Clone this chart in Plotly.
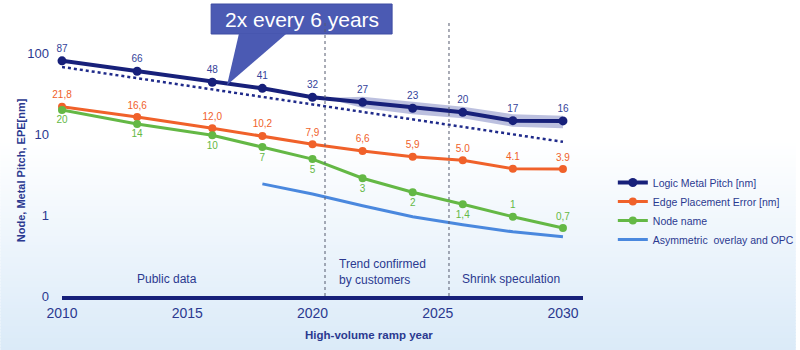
import plotly.graph_objects as go

# ---------------- data ----------------
years = [2010, 2013, 2016, 2018, 2020, 2022, 2024, 2026, 2028, 2030]

pitch_values = [80, 59.5, 43.5, 36.6, 28.4, 24.6, 20.8, 18.5, 14.6, 14.5]
pitch_labels = ["87", "66", "48", "41", "32", "27", "23", "20", "17", "16"]

epe_values = [21.7, 16.2, 11.8, 9.45, 7.46, 6.17, 5.25, 4.73, 3.73, 3.69]
epe_labels = ["21,8", "16,6", "12,0", "10,2", "7,9", "6,6", "5,9", "5.0", "4.1", "3.9"]

node_values = [19.8, 13.3, 9.67, 6.9, 4.9, 2.84, 1.91, 1.36, 0.95, 0.69]
node_labels = ["20", "14", "10", "7", "5", "3", "2", "1,4", "1", "0,7"]

opc_years = [2018, 2020, 2022, 2024, 2026, 2028, 2030]
opc_values = [2.42, 1.82, 1.30, 0.95, 0.76, 0.62, 0.54]

band_years = [2020.5, 2022, 2024, 2026, 2028, 2030]
band_upper = [27.8, 28.9, 25.0, 21.7, 17.5, 16.8]
band_lower = [27.8, 20.9, 17.5, 15.6, 12.3, 11.8]

trend_years = [2010, 2030]
trend_values = [67.2, 8.0]

phase_bounds = [2020.5, 2025.45]

y_tickvals = [0.1, 1, 10, 100]
y_ticktext = ["0", "1", "10", "100"]
x_tickvals = [2010, 2015, 2020, 2025, 2030]

# ---------------- style ----------------
FONT = "Liberation Sans, Arial, sans-serif"
NAVY = "#17207A"
TXT = "#2B3990"
ORANGE = "#F0612A"
GREEN = "#64B845"
BLUE = "#4A88DE"

W, H = 800, 350
ML, MR, MT, MB = 62, 214, 0, 54
PW, PH = W - ML - MR, H - MT - MB


def px(x):
    return (x - ML) / PW


def py(y):
    return (MT + PH - y) / PH


fig = go.Figure()

# shaded band
fig.add_trace(go.Scatter(
    x=band_years + band_years[::-1],
    y=band_upper + band_lower[::-1],
    fill="toself", fillcolor="rgba(80,90,170,0.38)",
    line=dict(width=0), mode="lines", showlegend=False, hoverinfo="skip"))

# trend (2x every 6 years)
fig.add_trace(go.Scatter(
    x=trend_years, y=trend_values, mode="lines",
    line=dict(color="#1F2A8A", width=2.5, dash="dot"),
    showlegend=False, hoverinfo="skip", cliponaxis=False))

fig.add_trace(go.Scatter(
    x=years, y=pitch_values, name="Logic Metal Pitch [nm]",
    mode="lines+markers+text", text=pitch_labels, textposition="top center",
    textfont=dict(size=10, color="#34439A", family=FONT),
    line=dict(color=NAVY, width=4), marker=dict(size=9, color=NAVY),
    cliponaxis=False))

fig.add_trace(go.Scatter(
    x=years, y=epe_values, name="Edge Placement Error [nm]",
    mode="lines+markers+text", text=epe_labels, textposition="top center",
    textfont=dict(size=10, color=ORANGE, family=FONT),
    line=dict(color=ORANGE, width=3), marker=dict(size=8, color=ORANGE),
    cliponaxis=False))

fig.add_trace(go.Scatter(
    x=years, y=node_values, name="Node name",
    mode="lines+markers+text", text=node_labels,
    textposition=["bottom center"] * 8 + ["top center"] * 2,
    textfont=dict(size=10, color=GREEN, family=FONT),
    line=dict(color=GREEN, width=3), marker=dict(size=8, color=GREEN),
    cliponaxis=False))

fig.add_trace(go.Scatter(
    x=opc_years, y=opc_values, name="Asymmetric  overlay and OPC",
    mode="lines", line=dict(color=BLUE, width=3), cliponaxis=False))

shapes = []
# background gradient (white -> light blue)
top_c = (255, 255, 255)
bot_c = (218, 234, 248)
start, end, step = 140, 350, 3
for yy in range(start, end, step):
    t = (yy - start) / (end - start)
    c = tuple(round(top_c[i] + (bot_c[i] - top_c[i]) * t) for i in range(3))
    shapes.append(dict(type="rect", xref="paper", yref="paper",
                       x0=px(0), x1=px(W), y0=py(yy + step + 1), y1=py(yy),
                       fillcolor="rgb(%d,%d,%d)" % c, line=dict(width=0),
                       layer="below"))

# callout box and pointer
shapes.append(dict(type="rect", xref="paper", yref="paper",
                   x0=px(212), x1=px(394), y0=py(34), y1=py(4),
                   fillcolor="#4B5AB3", line=dict(color="#3E4CA3", width=1)))
shapes.append(dict(type="path", xref="paper", yref="paper",
                   path="M %f,%f L %f,%f L %f,%f Z" % (px(240), py(33.5), px(288), py(33.5), px(228), py(85)),
                   fillcolor="#4B5AB3", line=dict(width=0)))

# phase separators (drawn over the callout, as in the reference)
for b in phase_bounds:
    shapes.append(dict(type="line", xref="x", yref="paper", x0=b, x1=b,
                       y0=0, y1=py(23), line=dict(color="#555a6e", width=1, dash="dot")))


def ann(text, x, y, size, xanchor="center", **kw):
    return dict(text=text, xref="paper", yref="paper", x=px(x), y=py(y),
                xanchor=xanchor, yanchor="middle", showarrow=False,
                font=dict(size=size, color=kw.pop("color", TXT), family=FONT), **kw)


annotations = [
    ann("2x every 6 years", 303, 19.5, 21, color="white"),
    ann("<b>Node, Metal Pitch, EPE[nm]</b>", 21, 170, 11, textangle=-90),
    ann("<b>High-volume ramp year</b>", 371, 335, 11.5),
    ann("Public data", 167.5, 279, 12),
    ann("Trend confirmed<br>by customers", 339, 272, 12, xanchor="left", align="left"),
    ann("Shrink speculation", 462, 279, 12, xanchor="left"),
]

fig.update_layout(
    width=W, height=H,
    margin=dict(l=ML, r=MR, t=MT, b=MB),
    paper_bgcolor="white", plot_bgcolor="rgba(0,0,0,0)",
    font=dict(family=FONT, color=TXT),
    shapes=shapes, annotations=annotations,
    showlegend=True,
    legend=dict(x=px(616), y=py(211), xanchor="left", yanchor="middle",
                bgcolor="rgba(0,0,0,0)", font=dict(size=10.5, color=TXT, family=FONT),
                itemwidth=30),
    xaxis=dict(range=[2010, 2030.8], tickvals=x_tickvals, showgrid=False,
               zeroline=False, showline=True, linecolor=NAVY, linewidth=4,
               ticks="", ticklabelstandoff=1,
               tickfont=dict(size=14, color=TXT, family=FONT)),
    yaxis=dict(type="log", range=[-1, 2.654], tickvals=y_tickvals, ticktext=y_ticktext,
               showgrid=False, zeroline=False, showline=False, ticks="",
               ticklabelstandoff=12,
               tickfont=dict(size=13, color=TXT, family=FONT)),
)

fig.write_html("out.html")
